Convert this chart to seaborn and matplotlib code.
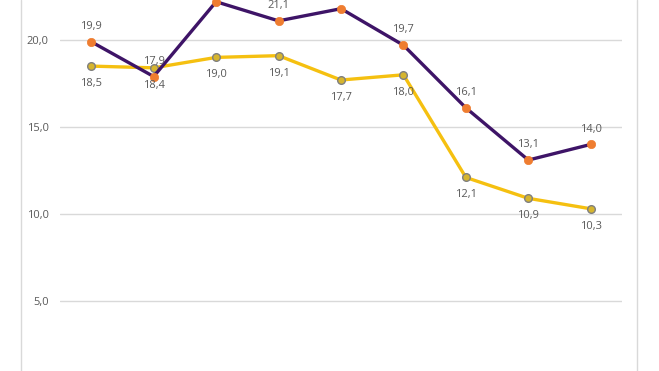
import matplotlib
matplotlib.use("Agg")
import matplotlib.pyplot as plt
from matplotlib.lines import Line2D
import seaborn as sns
import pandas as pd

# values (x categories are not shown in the crop)
periods = list(range(9))
purple_vals = [19.9, 17.9, 22.2, 21.1, 21.8, 19.7, 16.1, 13.1, 14.0]
yellow_vals = [18.5, 18.4, 19.0, 19.1, 17.7, 18.0, 12.1, 10.9, 10.3]
y_ticks = [5, 10, 15, 20]

df = pd.DataFrame({"period": periods, "purple": purple_vals, "yellow": yellow_vals})

sns.set_style("white")
plt.rcParams['font.family'] = ['Open Sans', 'DejaVu Sans']

fig = plt.figure(figsize=(6.59, 3.71), dpi=100)
ax = fig.add_axes([60 / 659, 0, 562 / 659, 1])

y_top = 20 + 40 / 17.4
ax.set_xlim(-0.5, 8.5)
ax.set_ylim(20 - 331 / 17.4, y_top)

sns.lineplot(data=df, x="period", y="yellow", ax=ax, color="#F5C010", lw=2.4,
             marker="o", markersize=5.5, markerfacecolor="#D6B52E",
             markeredgecolor="#7F7F7F", markeredgewidth=1.0, zorder=3)
sns.lineplot(data=df, x="period", y="purple", ax=ax, color="#3E1467", lw=2.4,
             marker="o", markersize=6, markerfacecolor="#EF7D30",
             markeredgecolor="#EF7D30", markeredgewidth=0.5, zorder=4)

# labels above the purple line; the ones above the top edge are cropped away in the original
for x, y in zip(df["period"], df["purple"]):
    if y > y_top - 1.0:
        continue
    ax.annotate(f"{y:.1f}".replace(".", ","), (x, y), xytext=(0, 11),
                textcoords="offset points", ha="center", va="center",
                fontsize=8, color="#595959", zorder=5)
for x, y in zip(df["period"], df["yellow"]):
    ax.annotate(f"{y:.1f}".replace(".", ","), (x, y), xytext=(0, -12.5),
                textcoords="offset points", ha="center", va="center",
                fontsize=8, color="#595959", zorder=5)

ax.set_xlim(-0.5, 8.5)
ax.set_ylim(20 - 331 / 17.4, y_top)
ax.set_yticks(y_ticks)
ax.set_yticklabels([f"{t:.1f}".replace(".", ",") for t in y_ticks])
ax.set_xticks([])
ax.grid(axis="y", color="#D9D9D9", lw=1)
ax.tick_params(axis="y", length=0, pad=8, labelsize=8, labelcolor="#595959")
ax.set_xlabel("")
ax.set_ylabel("")
for s in ax.spines.values():
    s.set_visible(False)

# outer chart frame
for xp in (20.5, 636.5):
    fig.add_artist(Line2D([xp / 659, xp / 659], [0, 1], color="#D9D9D9", lw=1))

fig.savefig("out.png", dpi=100)
